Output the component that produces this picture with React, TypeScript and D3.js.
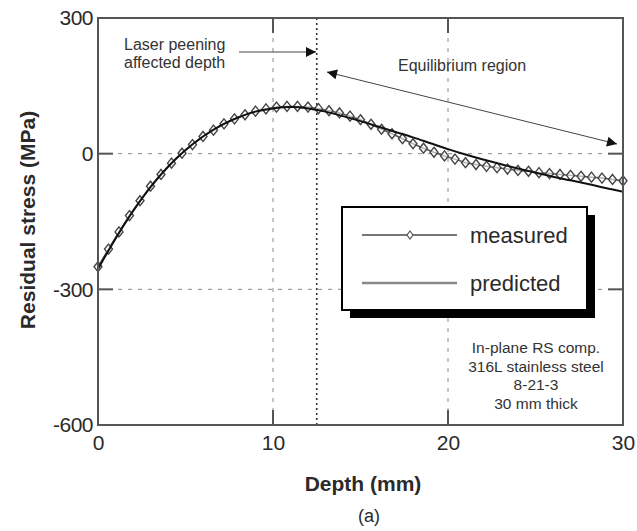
import React, { useEffect, useRef } from 'react';
import * as d3 from 'd3';

// measured points (depth mm, stress MPa)
const measuredDepth = [
  0, 0.6, 1.2, 1.8, 2.4, 3, 3.6, 4.2, 4.8, 5.4, 6, 6.6, 7.2, 7.8, 8.4, 9, 9.6,
  10.2, 10.8, 11.4, 12, 12.6, 13.2, 13.8, 14.4, 15, 15.6, 16.2, 16.8, 17.4, 18,
  18.6, 19.2, 19.8, 20.4, 21, 21.6, 22.2, 22.8, 23.4, 24, 24.6, 25.2, 25.8, 26.4,
  27, 27.6, 28.2, 28.8, 29.4, 30,
];
const measuredStress = [
  -250, -211, -173, -137, -104, -72, -46, -21, 1, 20, 38, 52, 66, 77, 86, 94, 99,
  103, 104.5, 104.5, 103, 99.5, 95, 90, 83, 75, 65, 54, 44, 33, 22,
  12, 3, -5, -12, -20, -24, -28, -31, -34, -37, -39, -42, -44, -46,
  -48, -50, -52, -54, -57, -60,
];

// predicted curve
const predictedDepth = [
  0, 1, 2, 3, 4, 5, 6, 7, 8, 9, 10, 11, 12, 13, 14, 15, 16, 17, 18, 19, 20,
  21, 22, 23, 24, 25, 26, 27, 28, 29, 30,
];
const predictedStress = [
  -255, -188, -127, -74, -29, 8, 38, 62, 80, 93, 100, 103, 100, 93, 83, 72, 60,
  48, 36, 23, 10, -2, -13, -23, -33, -42, -51, -59, -67, -76, -84,
];

const xTicks = [0, 10, 20, 30];
const yTicks = [-600, -300, 0, 300];
const gridX = [10, 20];
const gridY = [-300, 0];
const peeningDepth = 12.5;
const noteLines = ['In-plane RS comp.', '316L stainless steel', '8-21-3', '30 mm thick'];

const App = () => {
  const ref = useRef<SVGSVGElement>(null);

  useEffect(() => {
    const svg = d3.select(ref.current);
    svg.selectAll('*').remove();

    const W = 637, H = 531;
    const margin = { top: 18, right: 14, bottom: 106, left: 98 };
    const x = d3.scaleLinear().domain([0, 30]).range([margin.left, W - margin.right]);
    const y = d3.scaleLinear().domain([-600, 300]).range([H - margin.bottom, margin.top]);
    const font = 'Arial, "Liberation Sans", Helvetica, sans-serif';
    const ink = '#2a2a2a';

    const defs = svg.append('defs');
    defs.append('marker')
      .attr('id', 'head')
      .attr('viewBox', '0 0 10 10')
      .attr('refX', 10).attr('refY', 5)
      .attr('markerWidth', 15).attr('markerHeight', 10)
      .attr('markerUnits', 'userSpaceOnUse')
      .attr('orient', 'auto-start-reverse')
      .append('path').attr('d', 'M0,0L10,5L0,10Z').attr('fill', '#111');

    // grid
    svg.append('g').selectAll('line').data(gridX).enter().append('line')
      .attr('x1', d => x(d)).attr('x2', d => x(d))
      .attr('y1', y(300)).attr('y2', y(-600))
      .attr('stroke', '#8a8a8a').attr('stroke-width', 1).attr('stroke-dasharray', '4,6');
    svg.append('g').selectAll('line').data(gridY).enter().append('line')
      .attr('x1', x(0)).attr('x2', x(30))
      .attr('y1', d => y(d)).attr('y2', d => y(d))
      .attr('stroke', '#8a8a8a').attr('stroke-width', 1).attr('stroke-dasharray', '4,6');

    // laser peening depth marker
    svg.append('line')
      .attr('x1', x(peeningDepth)).attr('x2', x(peeningDepth))
      .attr('y1', y(300)).attr('y2', y(-600))
      .attr('stroke', '#333').attr('stroke-width', 1.6).attr('stroke-dasharray', '2,3');

    // legend box
    const lg = svg.append('g');
    lg.append('rect').attr('x', 350).attr('y', 215).attr('width', 245).attr('height', 103).attr('fill', '#000');
    lg.append('rect').attr('x', 342).attr('y', 207).attr('width', 245).attr('height', 103)
      .attr('fill', '#fff').attr('stroke', '#000').attr('stroke-width', 2);
    lg.append('line').attr('x1', 362).attr('x2', 457).attr('y1', 235).attr('y2', 235)
      .attr('stroke', '#777').attr('stroke-width', 2);
    lg.append('path').attr('d', 'M410,231L413,235L410,239L407,235Z')
      .attr('fill', '#fff').attr('stroke', '#555').attr('stroke-width', 1.2);
    lg.append('line').attr('x1', 362).attr('x2', 457).attr('y1', 283).attr('y2', 283)
      .attr('stroke', '#888').attr('stroke-width', 2.5);
    lg.append('text').attr('x', 470).attr('y', 243).text('measured')
      .attr('font-size', 22).attr('font-family', font).attr('fill', ink);
    lg.append('text').attr('x', 470).attr('y', 291).text('predicted')
      .attr('font-size', 22).attr('font-family', font).attr('fill', ink);

    // curves
    const measured = measuredDepth.map((d, i) => ({ d, s: measuredStress[i] }));
    const predicted = predictedDepth.map((d, i) => ({ d, s: predictedStress[i] }));

    svg.append('path')
      .datum(measured)
      .attr('fill', 'none').attr('stroke', '#555').attr('stroke-width', 1.5)
      .attr('d', d3.line<any>().x(p => x(p.d)).y(p => y(p.s)));
    svg.append('g').selectAll('path').data(measured).enter().append('path')
      .attr('transform', p => `translate(${x(p.d)},${y(p.s)})`)
      .attr('d', 'M0,-5L4,0L0,5L-4,0Z')
      .attr('fill', '#fff').attr('fill-opacity', 0.55)
      .attr('stroke', '#444').attr('stroke-width', 1.4);
    svg.append('path')
      .datum(predicted)
      .attr('fill', 'none').attr('stroke', '#111').attr('stroke-width', 2)
      .attr('d', d3.line<any>().x(p => x(p.d)).y(p => y(p.s)).curve(d3.curveMonotoneX));

    // frame
    svg.append('rect')
      .attr('x', x(0)).attr('y', y(300))
      .attr('width', x(30) - x(0)).attr('height', y(-600) - y(300))
      .attr('fill', 'none').attr('stroke', '#555').attr('stroke-width', 2);

    // inward ticks
    const tk = svg.append('g').attr('stroke', '#555').attr('stroke-width', 2);
    [10, 20].forEach(v => {
      tk.append('line').attr('x1', x(v)).attr('x2', x(v)).attr('y1', y(-600)).attr('y2', y(-600) - 15);
      tk.append('line').attr('x1', x(v)).attr('x2', x(v)).attr('y1', y(300)).attr('y2', y(300) + 15);
    });
    [-300, 0].forEach(v => {
      tk.append('line').attr('x1', x(0)).attr('x2', x(0) + 15).attr('y1', y(v)).attr('y2', y(v));
      tk.append('line').attr('x1', x(30)).attr('x2', x(30) - 15).attr('y1', y(v)).attr('y2', y(v));
    });

    // tick labels via axes
    const fmt = (d: any) => String(d);
    const xAxis = svg.append('g')
      .attr('transform', `translate(0,${y(-600)})`)
      .call(d3.axisBottom(x).tickValues(xTicks).tickFormat(fmt).tickSize(0).tickPadding(10));
    xAxis.select('.domain').remove();
    xAxis.selectAll('text').attr('font-size', 21).attr('font-family', font).attr('fill', ink);

    const yAxis = svg.append('g')
      .attr('transform', `translate(${x(0)},0)`)
      .call(d3.axisLeft(y).tickValues(yTicks).tickFormat(fmt).tickSize(0).tickPadding(5));
    yAxis.select('.domain').remove();
    yAxis.selectAll('text').attr('font-size', 21).attr('font-family', font).attr('fill', ink)
      .attr('letter-spacing', -0.5);

    // axis titles
    svg.append('text').attr('x', 363).attr('y', 491).attr('text-anchor', 'middle')
      .attr('font-size', 21).attr('font-weight', 'bold').attr('font-family', font).attr('fill', ink)
      .text('Depth (mm)');
    svg.append('text').attr('transform', 'translate(35,220) rotate(-90)').attr('text-anchor', 'middle')
      .attr('font-size', 21).attr('font-weight', 'bold').attr('font-family', font).attr('fill', ink)
      .text('Residual stress (MPa)');
    svg.append('text').attr('x', 369).attr('y', 522).attr('text-anchor', 'middle')
      .attr('font-size', 18).attr('font-family', font).attr('fill', ink).text('(a)');

    // annotations
    const ann = svg.append('g').attr('font-family', font).attr('font-size', 16).attr('fill', '#333');
    ann.append('text').attr('x', 124).attr('y', 50).text('Laser peening');
    ann.append('text').attr('x', 124).attr('y', 68).text('affected depth');
    svg.append('line').attr('x1', 239).attr('x2', 316).attr('y1', 52).attr('y2', 52)
      .attr('stroke', '#444').attr('stroke-width', 1).attr('marker-end', 'url(#head)');
    ann.append('text').attr('x', 462).attr('y', 71).attr('text-anchor', 'middle').text('Equilibrium region');
    svg.append('line').attr('x1', 327).attr('y1', 72).attr('x2', 617).attr('y2', 144)
      .attr('stroke', '#444').attr('stroke-width', 1)
      .attr('marker-start', 'url(#head)').attr('marker-end', 'url(#head)');

    const note = ann.append('text').attr('text-anchor', 'middle').attr('font-size', 15.5);
    noteLines.forEach((t, i) => {
      note.append('tspan').attr('x', 536).attr('y', 353 + i * 18.5).text(t);
    });
  }, []);

  return (
    <svg
      ref={ref}
      width={637}
      height={531}
      style={{ position: 'absolute', left: 0, top: 0, background: '#fff', display: 'block' }}
    />
  );
};

export default App;
